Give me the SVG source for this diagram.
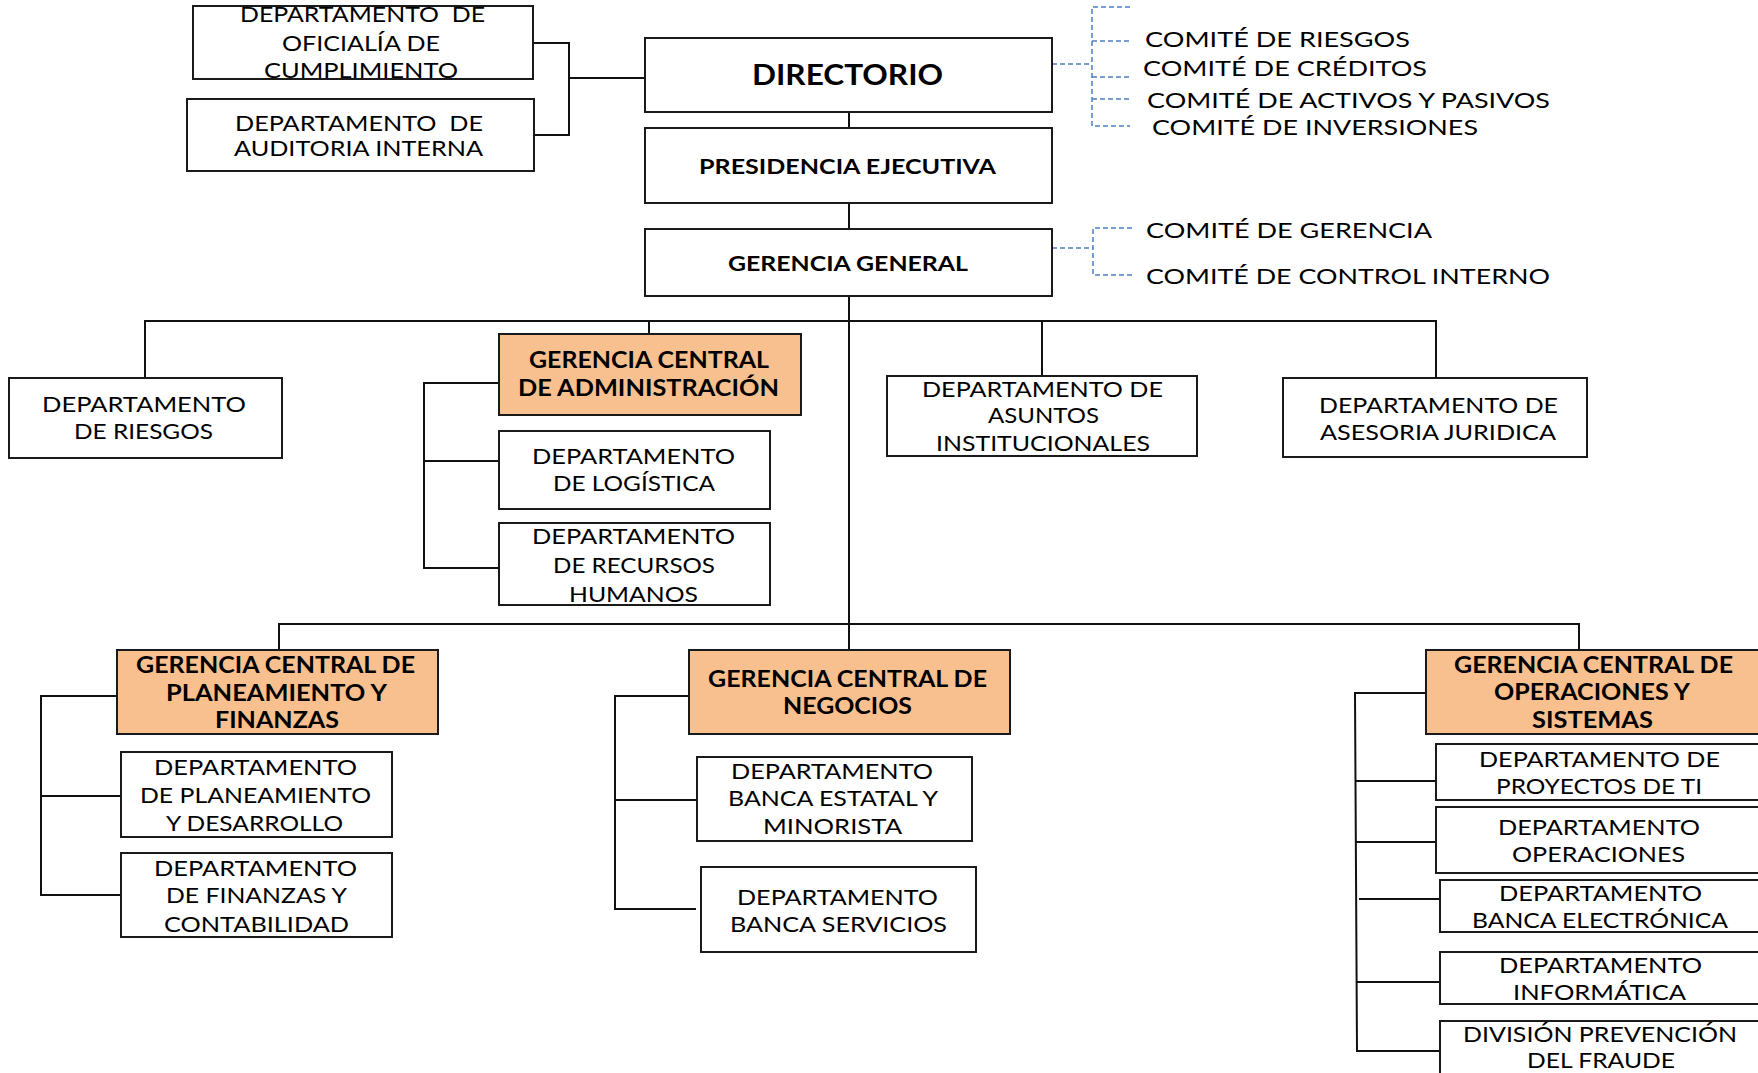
<svg xmlns="http://www.w3.org/2000/svg" width="1758" height="1073" viewBox="0 0 1758 1073">
<style>
.bg{fill:#fff}
.box{fill:#fff;stroke:#1a1a1a;stroke-width:2}
.org{fill:#F8C08F;stroke:#1a1a1a;stroke-width:2}
.t{font-family:Lato,"Open Sans","Liberation Sans",sans-serif;font-size:22px;fill:#000}
.pre{white-space:pre}
.c{font-size:21px}
.b{font-weight:bold}
.ln{stroke:#111;stroke-width:2;fill:none}
.dash{stroke:#4A7EC9;stroke-width:1.5;stroke-dasharray:5 3;fill:none}
</style>
<rect class="bg" x="0" y="0" width="1758" height="1073"/>
<g id="connectors">
<path class="ln" d="M534,43 H569 V135 H534 M569,78 H645"/>
<path class="ln" d="M849,112 V128 M849,203 V229 M849,296 V650"/>
<path class="ln" d="M145,378 V321 H1436 V378 M649,321 V334 M1042,321 V376"/>
<path class="ln" d="M499,383 H424 V568 H499 M424,461 H499"/>
<path class="ln" d="M279,650 V624 H1579 V650"/>
<path class="ln" d="M117,696 H41 V895 H121 M41,796 H121"/>
<path class="ln" d="M689,696 H615 V909 H696 M615,800 H697"/>
<path class="ln" d="M1426,693 H1355 L1357,1051 H1440 M1355,781 H1436 M1356,842 H1436 M1359,899 H1440 M1357,982 H1440"/>
<path class="dash" d="M1052,64 H1092 M1130,7 H1092 V126 H1130 M1092,41 H1130 M1092,77 H1130 M1092,99 H1130"/>
<path class="dash" d="M1052,248 H1093 M1132,228 H1093 V275 H1132"/>
</g>
<g id="oficialia">
<rect class="box" x="193" y="6" width="340" height="73"/>
<text class="t pre" x="240" y="22" textLength="245" lengthAdjust="spacingAndGlyphs">DEPARTAMENTO  DE</text>
<text class="t" x="282" y="51" textLength="158" lengthAdjust="spacingAndGlyphs">OFICIALÍA DE</text>
<text class="t" x="264" y="78" textLength="194" lengthAdjust="spacingAndGlyphs">CUMPLIMIENTO</text>
</g>
<g id="auditoria">
<rect class="box" x="187" y="99" width="347" height="72"/>
<text class="t pre" x="235" y="131" textLength="248" lengthAdjust="spacingAndGlyphs">DEPARTAMENTO  DE</text>
<text class="t" x="234" y="156" textLength="249" lengthAdjust="spacingAndGlyphs">AUDITORIA INTERNA</text>
</g>
<g id="directorio">
<rect class="box" x="645" y="38" width="407" height="74"/>
<text class="t b" style="font-size:28px" x="752" y="85" textLength="191" lengthAdjust="spacingAndGlyphs">DIRECTORIO</text>
</g>
<g id="presidencia">
<rect class="box" x="645" y="128" width="407" height="75"/>
<text class="t b" style="font-size:20px" x="699" y="174" textLength="297" lengthAdjust="spacingAndGlyphs">PRESIDENCIA EJECUTIVA</text>
</g>
<g id="gerencia-general">
<rect class="box" x="645" y="229" width="407" height="67"/>
<text class="t b" style="font-size:20px" x="728" y="271" textLength="240" lengthAdjust="spacingAndGlyphs">GERENCIA GENERAL</text>
</g>
<g id="comites-directorio">
<text class="t c" x="1145" y="47" textLength="265" lengthAdjust="spacingAndGlyphs">COMITÉ DE RIESGOS</text>
<text class="t c" x="1143" y="76" textLength="284" lengthAdjust="spacingAndGlyphs">COMITÉ DE CRÉDITOS</text>
<text class="t c" x="1147" y="108" textLength="403" lengthAdjust="spacingAndGlyphs">COMITÉ DE ACTIVOS Y PASIVOS</text>
<text class="t c" x="1152" y="135" textLength="326" lengthAdjust="spacingAndGlyphs">COMITÉ DE INVERSIONES</text>
</g>
<g id="comites-gerencia">
<text class="t c" x="1146" y="238" textLength="286" lengthAdjust="spacingAndGlyphs">COMITÉ DE GERENCIA</text>
<text class="t c" x="1146" y="284" textLength="404" lengthAdjust="spacingAndGlyphs">COMITÉ DE CONTROL INTERNO</text>
</g>
<g id="riesgos">
<rect class="box" x="9" y="378" width="273" height="80"/>
<text class="t" x="42" y="412" textLength="204" lengthAdjust="spacingAndGlyphs">DEPARTAMENTO</text>
<text class="t" x="74" y="439" textLength="139" lengthAdjust="spacingAndGlyphs">DE RIESGOS</text>
</g>
<g id="gc-administracion">
<rect class="org" x="499" y="334" width="302" height="81"/>
<text class="t b" x="529" y="368" textLength="240" lengthAdjust="spacingAndGlyphs">GERENCIA CENTRAL</text>
<text class="t b" x="518" y="396" textLength="261" lengthAdjust="spacingAndGlyphs">DE ADMINISTRACIÓN</text>
</g>
<g id="logistica">
<rect class="box" x="499" y="431" width="271" height="78"/>
<text class="t" x="532" y="464" textLength="203" lengthAdjust="spacingAndGlyphs">DEPARTAMENTO</text>
<text class="t" x="553" y="491" textLength="162" lengthAdjust="spacingAndGlyphs">DE LOGÍSTICA</text>
</g>
<g id="rrhh">
<rect class="box" x="499" y="523" width="271" height="82"/>
<text class="t" x="532" y="544" textLength="203" lengthAdjust="spacingAndGlyphs">DEPARTAMENTO</text>
<text class="t" x="553" y="573" textLength="162" lengthAdjust="spacingAndGlyphs">DE RECURSOS</text>
<text class="t" x="569" y="602" textLength="129" lengthAdjust="spacingAndGlyphs">HUMANOS</text>
</g>
<g id="asuntos">
<rect class="box" x="887" y="376" width="310" height="80"/>
<text class="t" x="922" y="397" textLength="241" lengthAdjust="spacingAndGlyphs">DEPARTAMENTO DE</text>
<text class="t" x="988" y="423" textLength="111" lengthAdjust="spacingAndGlyphs">ASUNTOS</text>
<text class="t" x="936" y="451" textLength="214" lengthAdjust="spacingAndGlyphs">INSTITUCIONALES</text>
</g>
<g id="juridica">
<rect class="box" x="1283" y="378" width="304" height="79"/>
<text class="t" x="1319" y="413" textLength="239" lengthAdjust="spacingAndGlyphs">DEPARTAMENTO DE</text>
<text class="t" x="1320" y="440" textLength="236" lengthAdjust="spacingAndGlyphs">ASESORIA JURIDICA</text>
</g>
<g id="gc-planeamiento">
<rect class="org" x="117" y="650" width="321" height="84"/>
<text class="t b" x="136" y="673" textLength="279" lengthAdjust="spacingAndGlyphs">GERENCIA CENTRAL DE</text>
<text class="t b" x="166" y="701" textLength="221" lengthAdjust="spacingAndGlyphs">PLANEAMIENTO Y</text>
<text class="t b" x="215" y="728" textLength="124" lengthAdjust="spacingAndGlyphs">FINANZAS</text>
</g>
<g id="planeamiento">
<rect class="box" x="121" y="752" width="271" height="85"/>
<text class="t" x="154" y="775" textLength="203" lengthAdjust="spacingAndGlyphs">DEPARTAMENTO</text>
<text class="t" x="140" y="803" textLength="231" lengthAdjust="spacingAndGlyphs">DE PLANEAMIENTO</text>
<text class="t" x="166" y="831" textLength="177" lengthAdjust="spacingAndGlyphs">Y DESARROLLO</text>
</g>
<g id="finanzas">
<rect class="box" x="121" y="853" width="271" height="84"/>
<text class="t" x="154" y="876" textLength="203" lengthAdjust="spacingAndGlyphs">DEPARTAMENTO</text>
<text class="t" x="166" y="903" textLength="181" lengthAdjust="spacingAndGlyphs">DE FINANZAS Y</text>
<text class="t" x="164" y="932" textLength="185" lengthAdjust="spacingAndGlyphs">CONTABILIDAD</text>
</g>
<g id="gc-negocios">
<rect class="org" x="689" y="650" width="321" height="84"/>
<text class="t b" x="708" y="687" textLength="279" lengthAdjust="spacingAndGlyphs">GERENCIA CENTRAL DE</text>
<text class="t b" x="783" y="714" textLength="129" lengthAdjust="spacingAndGlyphs">NEGOCIOS</text>
</g>
<g id="banca-estatal">
<rect class="box" x="697" y="757" width="275" height="84"/>
<text class="t" x="731" y="779" textLength="202" lengthAdjust="spacingAndGlyphs">DEPARTAMENTO</text>
<text class="t" x="728" y="806" textLength="210" lengthAdjust="spacingAndGlyphs">BANCA ESTATAL Y</text>
<text class="t" x="763" y="834" textLength="139" lengthAdjust="spacingAndGlyphs">MINORISTA</text>
</g>
<g id="banca-servicios">
<rect class="box" x="701" y="867" width="275" height="85"/>
<text class="t" x="737" y="905" textLength="201" lengthAdjust="spacingAndGlyphs">DEPARTAMENTO</text>
<text class="t" x="730" y="932" textLength="217" lengthAdjust="spacingAndGlyphs">BANCA SERVICIOS</text>
</g>
<g id="gc-operaciones">
<rect class="org" x="1426" y="650" width="344" height="84"/>
<text class="t b" x="1454" y="673" textLength="279" lengthAdjust="spacingAndGlyphs">GERENCIA CENTRAL DE</text>
<text class="t b" x="1494" y="700" textLength="196" lengthAdjust="spacingAndGlyphs">OPERACIONES Y</text>
<text class="t b" x="1532" y="728" textLength="121" lengthAdjust="spacingAndGlyphs">SISTEMAS</text>
</g>
<g id="proyectos-ti">
<rect class="box" x="1436" y="744" width="334" height="56"/>
<text class="t" x="1479" y="767" textLength="241" lengthAdjust="spacingAndGlyphs">DEPARTAMENTO DE</text>
<text class="t" x="1496" y="794" textLength="206" lengthAdjust="spacingAndGlyphs">PROYECTOS DE TI</text>
</g>
<g id="operaciones">
<rect class="box" x="1436" y="807" width="334" height="66"/>
<text class="t" x="1498" y="835" textLength="202" lengthAdjust="spacingAndGlyphs">DEPARTAMENTO</text>
<text class="t" x="1512" y="862" textLength="173" lengthAdjust="spacingAndGlyphs">OPERACIONES</text>
</g>
<g id="banca-electronica">
<rect class="box" x="1440" y="880" width="330" height="52"/>
<text class="t" x="1499" y="901" textLength="203" lengthAdjust="spacingAndGlyphs">DEPARTAMENTO</text>
<text class="t" x="1472" y="928" textLength="256" lengthAdjust="spacingAndGlyphs">BANCA ELECTRÓNICA</text>
</g>
<g id="informatica">
<rect class="box" x="1440" y="952" width="330" height="52"/>
<text class="t" x="1499" y="973" textLength="203" lengthAdjust="spacingAndGlyphs">DEPARTAMENTO</text>
<text class="t" x="1513" y="1000" textLength="173" lengthAdjust="spacingAndGlyphs">INFORMÁTICA</text>
</g>
<g id="prevencion-fraude">
<rect class="box" x="1440" y="1021" width="330" height="60"/>
<text class="t" x="1463" y="1042" textLength="274" lengthAdjust="spacingAndGlyphs">DIVISIÓN PREVENCIÓN</text>
<text class="t" x="1527" y="1068" textLength="148" lengthAdjust="spacingAndGlyphs">DEL FRAUDE</text>
</g>
</svg>
